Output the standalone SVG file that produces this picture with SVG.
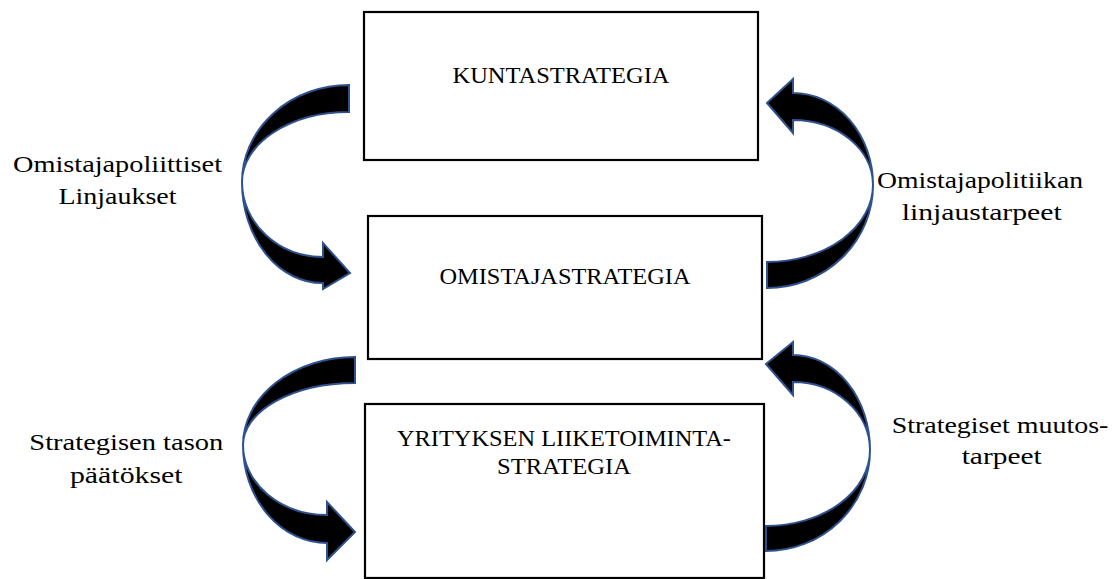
<svg xmlns="http://www.w3.org/2000/svg" width="1117" height="579" viewBox="0 0 1117 579">
  <style>
    .box { fill: #ffffff; stroke: #000000; stroke-width: 2.2; }
    .t { font-family: "Liberation Serif", "Times New Roman", serif; font-size: 24px; fill: #000000; text-anchor: middle; }
    .arr { fill: #000000; stroke: #2F528F; stroke-width: 2; stroke-linejoin: miter; }
  </style>
  <rect width="1117" height="579" fill="#ffffff"/>

  <g id="connectors">
    <!-- left top: KUNTASTRATEGIA -> OMISTAJASTRATEGIA -->
    <path id="arrow-left-top" class="arr" d="M 349,85 A 107 97 0 0 0 242,182 A 80 101 0 0 0 323,283 L 323,289 L 350,273 L 323,243 L 323,257 A 81 75 0 0 1 242,182 A 107 70 0 0 1 349,112 Z"/>
    <!-- right top: OMISTAJASTRATEGIA -> KUNTASTRATEGIA -->
    <path id="arrow-right-top" class="arr" d="M 767,103 L 793,79 L 793,93 A 80 92 0 0 1 873,185 A 106 103 0 0 1 767,288 L 767,262 A 106 77 0 0 0 873,185 A 80 65 0 0 0 793,120 L 793,133 Z"/>
    <!-- left bottom: OMISTAJASTRATEGIA -> YRITYKSEN -->
    <path id="arrow-left-bottom" class="arr" d="M 355,357 A 112 88 0 0 0 243,445 A 84 98 0 0 0 327,543 L 327,560 L 355,532 L 327,502 L 327,515 A 84 70 0 0 1 243,445 A 112 62 0 0 1 355,383 Z"/>
    <!-- right bottom: YRITYKSEN -> OMISTAJASTRATEGIA -->
    <path id="arrow-right-bottom" class="arr" d="M 766,364 L 793,342 L 793,355 A 77 95 0 0 1 870,450 A 104 101 0 0 1 766,551 L 766,526 A 104 76 0 0 0 870,450 A 77 68 0 0 0 793,382 L 793,395 Z"/>
  </g>

  <g id="node-kuntastrategia">
    <rect class="box" x="364" y="12" width="394" height="148"/>
    <text class="t" x="561" y="83" textLength="217" lengthAdjust="spacingAndGlyphs">KUNTASTRATEGIA</text>
  </g>

  <g id="node-omistajastrategia">
    <rect class="box" x="368" y="216" width="394" height="143"/>
    <text class="t" x="565" y="284" textLength="251" lengthAdjust="spacingAndGlyphs">OMISTAJASTRATEGIA</text>
  </g>

  <g id="node-liiketoimintastrategia">
    <rect class="box" x="365" y="404" width="399" height="174"/>
    <text class="t" x="564" y="446" textLength="334" lengthAdjust="spacingAndGlyphs">YRITYKSEN LIIKETOIMINTA-</text>
    <text class="t" x="564" y="474" textLength="134" lengthAdjust="spacingAndGlyphs">STRATEGIA</text>
  </g>

  <g id="label-omistajapoliittiset">
    <text class="t" x="117.5" y="172" textLength="209" lengthAdjust="spacingAndGlyphs">Omistajapoliittiset</text>
    <text class="t" x="117.5" y="204" textLength="118" lengthAdjust="spacingAndGlyphs">Linjaukset</text>
  </g>

  <g id="label-omistajapolitiikan">
    <text class="t" x="980" y="188" textLength="206" lengthAdjust="spacingAndGlyphs">Omistajapolitiikan</text>
    <text class="t" x="981.7" y="220" textLength="160" lengthAdjust="spacingAndGlyphs">linjaustarpeet</text>
  </g>

  <g id="label-strategisen-tason">
    <text class="t" x="126.3" y="450" textLength="194" lengthAdjust="spacingAndGlyphs">Strategisen tason</text>
    <text class="t" x="126.3" y="483" textLength="112.7" lengthAdjust="spacingAndGlyphs">päätökset</text>
  </g>

  <g id="label-strategiset-muutos">
    <text class="t" x="1000" y="433" textLength="216.7" lengthAdjust="spacingAndGlyphs">Strategiset muutos-</text>
    <text class="t" x="1001.7" y="464" textLength="80" lengthAdjust="spacingAndGlyphs">tarpeet</text>
  </g>
</svg>
